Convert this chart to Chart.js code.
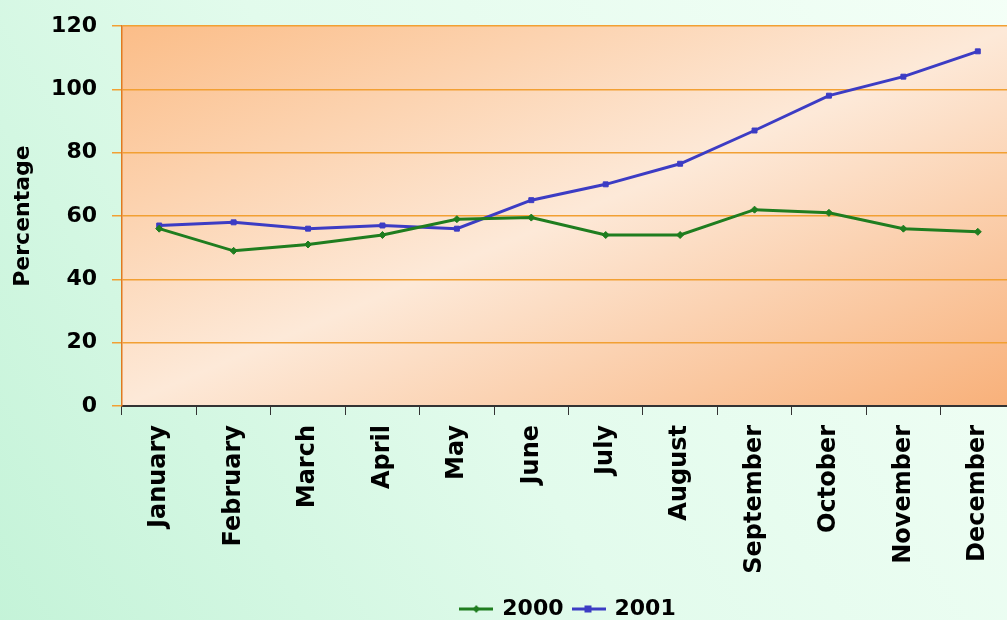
<!DOCTYPE html>
<html>
<head>
<meta charset="utf-8">
<script src="https://cdn.jsdelivr.net/npm/chart.js@4/dist/chart.umd.min.js"></script>
<style>
  html, body { margin: 0; padding: 0; overflow: hidden; width: 1007px; height: 620px; }
  #wrap { position: absolute; left: 0; top: 0; width: 1020px; height: 630px; }
</style>
</head>
<body>
<div id="wrap"><canvas id="c"></canvas></div>
<script>
const months = ['January','February','March','April','May','June','July','August','September','October','November','December'];
const values2000 = [56, 49, 51, 54, 59, 59.5, 54, 54, 62, 61, 56, 55];
const values2001 = [57, 58, 56, 57, 56, 65, 70, 76.5, 87, 98, 104, 112];
const yTicks = [0, 20, 40, 60, 80, 100, 120];

const green = '#1f7d1f';
const blue = '#3c3cc4';
const FONT = 'DejaVu Sans';

function legendImage(color, style) {
  const cv = document.createElement('canvas');
  cv.width = 34; cv.height = 12;
  const g = cv.getContext('2d');
  g.strokeStyle = color; g.lineWidth = 3;
  g.beginPath(); g.moveTo(0, 6); g.lineTo(34, 6); g.stroke();
  g.fillStyle = color;
  if (style === 'rect') { g.fillRect(13, 2.5, 7, 7); }
  else { g.beginPath(); g.moveTo(17, 2); g.lineTo(20.5, 6); g.lineTo(17, 10); g.lineTo(13.5, 6); g.closePath(); g.fill(); }
  return cv;
}
const legendImgs = [legendImage(green, 'rectRot'), legendImage(blue, 'rect')];

const bgPlugin = {
  id: 'bg',
  beforeDraw(chart) {
    const {ctx, chartArea: a, width, height} = chart;
    ctx.save();
    const g = ctx.createLinearGradient(0, height, width, 0);
    g.addColorStop(0, '#c4f3d8');
    g.addColorStop(0.45, '#e2fbec');
    g.addColorStop(1, '#f4fff7');
    ctx.fillStyle = g;
    ctx.fillRect(0, 0, width, height);
    const W = a.right - a.left, H = a.bottom - a.top;
    const cx = (a.left + a.right) / 2, cy = (a.top + a.bottom) / 2;
    const k = W * H / (W * W + H * H);
    const p = ctx.createLinearGradient(cx - k * H, cy - k * W, cx + k * H, cy + k * W);
    p.addColorStop(0, '#fbbd88');
    p.addColorStop(0.5, '#fde9d8');
    p.addColorStop(1, '#f8b079');
    ctx.fillStyle = p;
    ctx.fillRect(a.left, a.top, W, H);
    ctx.restore();
  }
};

new Chart(document.getElementById('c'), {
  type: 'line',
  data: {
    labels: months,
    datasets: [
      { label: '2000', data: values2000, borderColor: green, backgroundColor: green,
        borderWidth: 3, pointStyle: 'rectRot', pointRadius: 3.5, pointBorderWidth: 1, tension: 0 },
      { label: '2001', data: values2001, borderColor: blue, backgroundColor: blue,
        borderWidth: 3, pointStyle: 'rect', pointRadius: 3.5, pointBorderWidth: 1, tension: 0 }
    ]
  },
  options: {
    responsive: true,
    maintainAspectRatio: false,
    animation: false,
    layout: { padding: { top: 24, right: 3, left: 0, bottom: 0 } },
    plugins: {
      tooltip: { enabled: false },
      legend: {
        position: 'bottom',
        fullSize: false,
        labels: {
          usePointStyle: true,
          pointStyleWidth: 30,
          padding: 10,
          color: '#000',
          font: { family: FONT, size: 22, weight: 'bold' },
          generateLabels(chart) {
            const items = Chart.defaults.plugins.legend.labels.generateLabels(chart);
            items.forEach((it, i) => { it.pointStyle = legendImgs[i]; });
            return items;
          }
        }
      }
    },
    scales: {
      x: {
        offset: true,
        afterFit(s) { s.height = 182; },
        grid: { display: true, drawOnChartArea: false, drawTicks: true, tickLength: 9, color: '#333', offset: true },
        border: { display: true, color: '#333', width: 2 },
        ticks: { color: '#000', minRotation: 90, maxRotation: 90, autoSkip: false, padding: 10,
                 font: { family: FONT, size: 24, weight: 'bold' } }
      },
      y: {
        min: 0, max: 120,
        afterFit(s) { s.width = 122; },
        afterBuildTicks(s) { s.ticks = yTicks.map(v => ({ value: v })); },
        grid: { color: '#f2a033', lineWidth: 1.5, drawTicks: true, tickLength: 10, tickColor: '#f2a033' },
        border: { display: true, color: '#e07a20', width: 1.5 },
        ticks: { color: '#000', padding: 15, font: { family: FONT, size: 22, weight: 'bold', lineHeight: 1 } },
        title: { display: true, text: 'Percentage', color: '#000', padding: { top: 10, bottom: 0 },
                 font: { family: FONT, size: 22, weight: 'bold' } }
      }
    }
  },
  plugins: [bgPlugin]
});
</script>
</body>
</html>
